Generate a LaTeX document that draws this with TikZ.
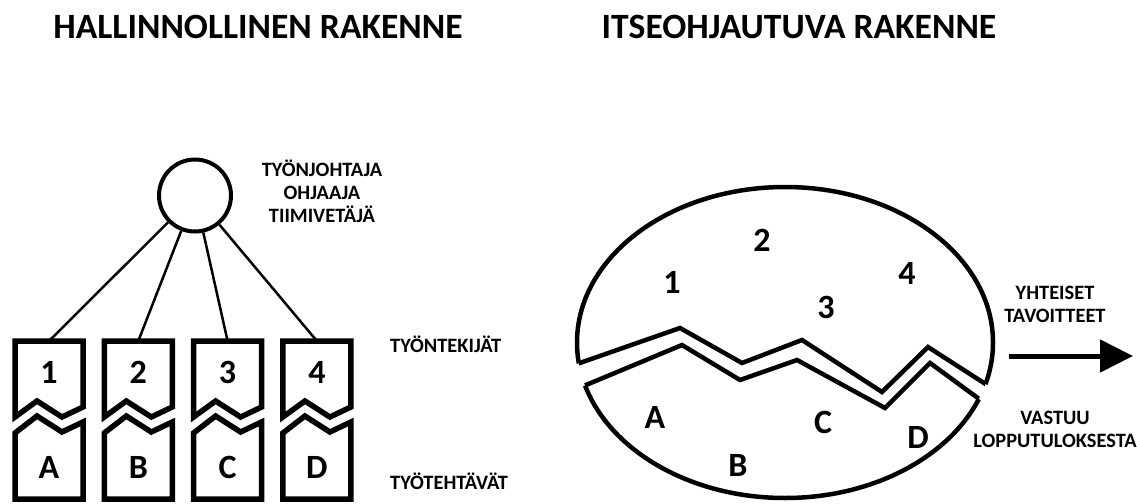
\documentclass[tikz,border=0pt]{standalone}
\usepackage{fontspec}
\setmainfont{Carlito}
\usetikzlibrary{arrows.meta,positioning}
\tikzset{heading/.style={font=\bfseries\fontsize{35.6}{36}\selectfont, inner sep=0}}
\tikzset{big/.style={font=\bfseries\fontsize{34}{34}\selectfont, inner sep=0}}
\tikzset{small/.style={font=\bfseries\fontsize{20.4}{23}\selectfont, align=center, inner sep=0}}
\tikzset{piece/.style={draw, line width=5.5pt, line join=miter, fill=white}}
\tikzset{shell/.style={draw, line width=4.5pt, line join=miter}}
\tikzset{link/.style={draw, line width=2.5pt}}

\begin{document}
\begin{tikzpicture}[x=1pt, y=-1pt]
    \useasboundingbox (0,0) rectangle (1137,503);
    \node[heading] (hier) at (258,27) {HALLINNOLLINEN RAKENNE};
    \node[heading] (self) at (799,27) {ITSEOHJAUTUVA RAKENNE};

    % hallinnollinen
    \node[circle, draw, line width=4pt, minimum size=72pt, inner sep=0] (boss) at (195,195.5) {};
    \node[small] (bosstext) at (322,191.5) {TYÖNJOHTAJA\\OHJAAJA\\TIIMIVETÄJÄ};
    \foreach \i/\n/\t in {0/1/A,1/2/B,2/3/C,3/4/D} {
        \pgfmathsetmacro\x{15+89.3*\i}
        \coordinate (top\n) at (\x+34,341);
        \draw[link] (boss) -- (top\n);
        \draw[piece] (\x,417) -- (\x,341) -- ++(68,0) -- ++(0,66) -- ++(-21,10) -- ++(-25,-16) -- cycle;
        \draw[piece] (\x,433) -- ++(22,-17) -- ++(25,16) -- ++(21,-10) -- (\x+68,499) -- (\x,499) -- cycle;
        \node[big] (worker\n) at (\x+34,372) {\n};
        \node[big] (task\n) at (\x+34,467) {\t};
    }
    \node[small, anchor=base west] (workers) at (390,352) {TYÖNTEKIJÄT};
    \node[small, anchor=base west] (tasks) at (390,489) {TYÖTEHTÄVÄT};

    % itseohjautuva
    \draw[shell] (785,342.5) ellipse [x radius=208, y radius=155.5];
    \fill[white] (554,372) -- (680,328) -- (742,363) -- (802,340) -- (882,392) -- (928,347) -- (1015,403)
        -- (1012,423) -- (930,363) -- (885,408) -- (797,360) -- (740,380) -- (682,345) -- (562,395) -- cycle;
    \begin{scope}
        \clip (785,342.5) ellipse [x radius=208, y radius=155.5];
        \draw[shell] (554,372) -- (680,328) -- (742,363) -- (802,340) -- (882,392) -- (928,347) -- (1015,403);
        \draw[shell] (562,395) -- (682,345) -- (740,380) -- (797,360) -- (885,408) -- (930,363) -- (1012,423);
    \end{scope}
    \node[big] (m1) at (672,282) {1};
    \node[big] (m2) at (762,240) {2};
    \node[big] (m3) at (826,307) {3};
    \node[big] (m4) at (907,273) {4};
    \node[big] (ta) at (655,417) {A};
    \node[big] (tb) at (738,465) {B};
    \node[big] (tc) at (823,422) {C};
    \node[big] (td) at (918,437) {D};

    \coordinate (goalfrom) at (1009,356);
    \coordinate (goalto) at (1133,356);
    \draw[line width=5pt, -{Triangle[length=33pt, width=32pt]}] (goalfrom) -- (goalto);
    \node[small] (goals) at (1055,304) {YHTEISET\\TAVOITTEET};
    \node[small] (outcome) at (1055,429) {VASTUU\\LOPPUTULOKSESTA};
\end{tikzpicture}
\end{document}
